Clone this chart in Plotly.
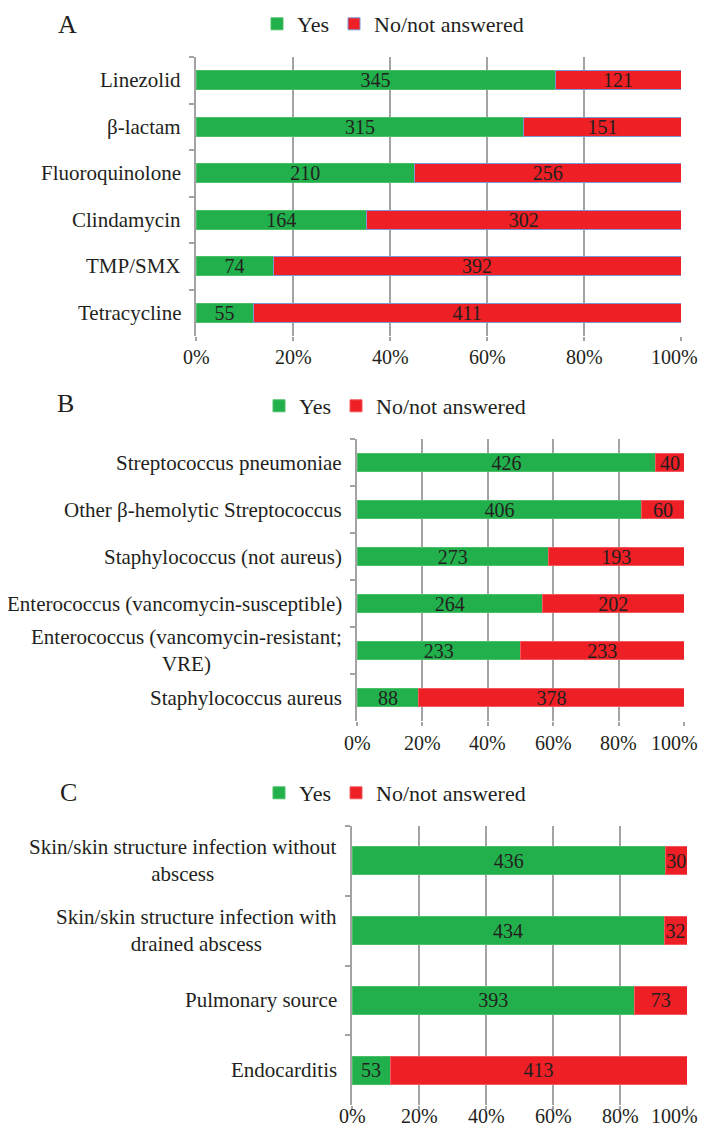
import plotly.graph_objects as go

# page body has an 8px default margin; figure pixel p lands at p + 8
OFF = 8
W, H = 708 - OFF, 1137 - 2 * OFF
VIS_RIGHT = 699          # right-most visible page pixel for text

# ---------------- data ----------------
catsA = ["Linezolid", "β-lactam", "Fluoroquinolone", "Clindamycin", "TMP/SMX", "Tetracycline"]
yesA = [345, 315, 210, 164, 74, 55]
noA = [121, 151, 256, 302, 392, 411]

catsB = ["Streptococcus pneumoniae", "Other β-hemolytic Streptococcus",
         "Staphylococcus (not aureus)", "Enterococcus (vancomycin-susceptible)",
         "Enterococcus (vancomycin-resistant;<br>VRE)", "Staphylococcus aureus"]
yesB = [426, 406, 273, 264, 233, 88]
noB = [40, 60, 193, 202, 233, 378]

catsC = ["Skin/skin structure infection without<br>abscess",
         "Skin/skin structure infection with<br>drained abscess",
         "Pulmonary source", "Endocarditis"]
yesC = [436, 434, 393, 53]
noC = [30, 32, 73, 413]

series_names = ["Yes", "No/not answered"]
panel_letters = ["A", "B", "C"]
xtick_vals = [0, 20, 40, 60, 80, 100]
xtick_text = ["0%", "20%", "40%", "60%", "80%", "100%"]

# ---------------- style ----------------
FONT = "Liberation Serif"
GREEN = "#21b04b"
RED = "#ee1f25"
GRID = "#a3a3a3"
TXT = "#231f20"
FS = 20
FS_CAT = 21
HALF_100 = 25            # approx half width (px) of the "100%" label box

def px_x(p):
    return (p - OFF) / W

def px_y(p):
    return 1 - (p - OFF) / H

# panel geometry in reference-window pixels
panels = [
    dict(x0=196, x1=681, yt=57, yb=336, ly=24, lx=393, letter=(67, 25),
         nline="#7b98d4", tly=357),
    dict(x0=357, x1=684, yt=439, yb=721, ly=406, lx=395, letter=(66, 404),
         nline="#f05a5e", tly=743),
    dict(x0=352, x1=687, yt=826, yb=1105, ly=793, lx=395, letter=(68, 792),
         nline="#f05a5e", tly=1116),
]
data = [(catsA, yesA, noA), (catsB, yesB, noB), (catsC, yesC, noC)]

fig = go.Figure()
annotations = []
layout_axes = {}

for i, (p, (cats, yes, no)) in enumerate(zip(panels, data)):
    n = i + 1
    xa = "x" if n == 1 else f"x{n}"
    ya = "y" if n == 1 else f"y{n}"
    lg = "legend" if n == 1 else f"legend{n}"
    for name, vals, col, lcol in [(series_names[0], yes, GREEN, "#4cc069"),
                                   (series_names[1], no, RED, p["nline"])]:
        fig.add_trace(go.Bar(
            y=cats, x=vals, orientation="h", name=name,
            marker=dict(color=col, line=dict(color=lcol, width=1)),
            text=[str(v) for v in vals], textposition="inside",
            insidetextanchor="middle", textangle=0, constraintext="none",
            textfont=dict(family=FONT, size=FS, color=TXT),
            xaxis=xa, yaxis=ya, legend=lg, hoverinfo="skip",
        ))
    xkey = "xaxis" if n == 1 else f"xaxis{n}"
    ykey = "yaxis" if n == 1 else f"yaxis{n}"
    layout_axes[xkey] = dict(
        domain=[px_x(p["x0"]), px_x(p["x1"])], anchor=ya, range=[0, 100],
        tickvals=xtick_vals, showticklabels=False, showgrid=True,
        gridcolor=GRID, gridwidth=1.5, zeroline=False, showline=False,
        ticks="outside", ticklen=4, tickcolor=GRID, tickwidth=1.5,
        fixedrange=True,
    )
    layout_axes[ykey] = dict(
        domain=[px_y(p["yb"]), px_y(p["yt"])], anchor=xa, type="category",
        autorange="reversed", showline=True, linecolor=GRID, linewidth=1.5,
        ticks="outside", tickson="boundaries", ticklen=5, tickcolor=GRID,
        tickwidth=1.5, showticklabels=False, showgrid=False, fixedrange=True,
    )
    layout_axes[lg] = dict(
        orientation="h", x=px_x(p["lx"]), y=px_y(p["ly"]), xanchor="center",
        yanchor="middle", font=dict(family=FONT, size=22, color=TXT),
        bgcolor="rgba(0,0,0,0)", itemwidth=30, traceorder="normal",
    )
    # x tick labels (kept inside the visible page at the right edge)
    for v, t in zip(xtick_vals, xtick_text):
        right_px = p["x0"] + (p["x1"] - p["x0"]) * v / 100 + HALF_100
        shift = min(0, VIS_RIGHT - right_px) if t == "100%" else 0
        annotations.append(dict(
            xref=xa, yref="paper", x=v, y=px_y(p["tly"]), text=t,
            xanchor="center", yanchor="middle", xshift=shift, showarrow=False,
            font=dict(family=FONT, size=FS, color=TXT),
        ))
    # category labels (centred multi-line, right-aligned block)
    for c in cats:
        annotations.append(dict(
            xref="paper", yref=ya, x=px_x(p["x0"]), y=c, text=c,
            xanchor="right", yanchor="middle", align="center", xshift=-13,
            showarrow=False, font=dict(family=FONT, size=FS_CAT, color=TXT),
        ))
    lx, ly = p["letter"]
    annotations.append(dict(
        xref="paper", yref="paper", x=px_x(lx), y=px_y(ly), text=panel_letters[i],
        xanchor="center", yanchor="middle", showarrow=False,
        font=dict(family=FONT, size=26, color=TXT),
    ))

fig.update_layout(
    width=W, height=H, margin=dict(l=0, r=0, t=0, b=0, autoexpand=False),
    paper_bgcolor="white", plot_bgcolor="white",
    barmode="stack", barnorm="percent", bargap=0.6,
    font=dict(family=FONT, size=FS, color=TXT),
    annotations=annotations, showlegend=True,
    **layout_axes,
)

fig.write_html("out.html")
